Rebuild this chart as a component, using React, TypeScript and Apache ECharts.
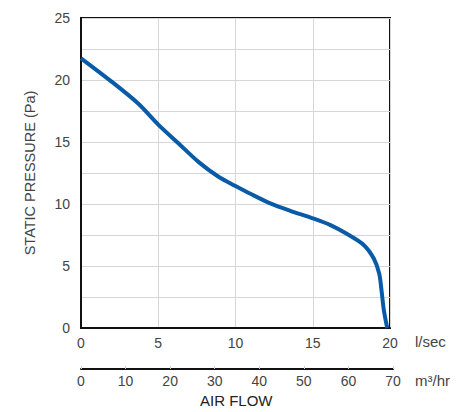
import React, { useEffect, useRef } from "react";
import * as echarts from "echarts";

const flowLps: number[] = [0, 2.0, 3.7, 5.0, 6.3, 7.6, 8.9, 10.0, 11.0, 12.25, 13.55, 15.0, 16.15, 17.2, 18.3, 18.95, 19.3, 19.45, 19.6, 19.82];
const pressurePa: number[] = [21.75, 19.85, 18.1, 16.4, 14.9, 13.4, 12.2, 11.45, 10.8, 10.05, 9.45, 8.85, 8.3, 7.6, 6.7, 5.6, 4.4, 3.05, 1.45, 0];
const lpsTicks = { min: 0, max: 20, interval: 5 };
const m3hTicks = { min: 0, max: 70, interval: 10 };
const paTicks = { min: 0, max: 25, interval: 2.5, labelEvery: 5 };

const FONT = "'Liberation Sans', Arial, Helvetica, sans-serif";
const TXT = "#444";

export default function App() {
  const ref = useRef<HTMLDivElement>(null);
  useEffect(() => {
    if (!ref.current) return;
    const chart = echarts.init(ref.current, undefined, { renderer: "svg" });
    const data = flowLps.map((x, i) => [x, pressurePa[i]]);
    chart.setOption({
      animation: false,
      grid: [
        { left: 81, top: 18, width: 309, height: 310, show: true, borderColor: "#111", borderWidth: 2, backgroundColor: "transparent" },
        { left: 81, top: 369, width: 312, height: 0 },
      ],
      xAxis: [
        {
          type: "value",
          gridIndex: 0,
          min: lpsTicks.min,
          max: lpsTicks.max,
          interval: lpsTicks.interval,
          axisLine: { show: true, lineStyle: { color: "#111", width: 2 } },
          axisTick: { show: false },
          splitLine: { show: true, lineStyle: { color: "#d6d6d6", width: 1 } },
          axisLabel: { color: TXT, fontSize: 14, fontFamily: FONT, margin: 8 },
        },
        {
          type: "value",
          gridIndex: 1,
          min: m3hTicks.min,
          max: m3hTicks.max,
          interval: m3hTicks.interval,
          axisLine: { show: true, lineStyle: { color: "#111", width: 2 } },
          axisTick: { show: true, inside: true, length: 3, lineStyle: { color: "#ccc" } },
          splitLine: { show: false },
          axisLabel: { color: TXT, fontSize: 14, fontFamily: FONT, margin: 5 },
        },
      ],
      yAxis: [
        {
          type: "value",
          gridIndex: 0,
          min: paTicks.min,
          max: paTicks.max,
          interval: paTicks.interval,
          axisLine: { show: true, lineStyle: { color: "#111", width: 2 } },
          axisTick: { show: false },
          splitLine: { show: true, lineStyle: { color: "#d6d6d6", width: 1 } },
          axisLabel: {
            color: TXT,
            fontSize: 14,
            fontFamily: FONT,
            margin: 11,
            formatter: (v: number) => (v % paTicks.labelEvery === 0 ? String(v) : ""),
          },
          name: "STATIC PRESSURE (Pa)",
          nameLocation: "middle",
          nameGap: 44,
          nameTextStyle: { color: TXT, fontSize: 14.5, fontFamily: FONT },
        },
        { type: "value", gridIndex: 1, show: false, min: 0, max: 1 },
      ],
      series: [
        {
          type: "line",
          xAxisIndex: 0,
          yAxisIndex: 0,
          data,
          smooth: 0.3,
          showSymbol: false,
          lineStyle: { color: "#0a5ba7", width: 4 },
          clip: false,
        },
        { type: "line", xAxisIndex: 1, yAxisIndex: 1, data: [] },
      ],
      graphic: [
        { type: "text", left: 415, top: 334, style: { text: "l/sec", fill: TXT, font: `15px ${FONT}` } },
        { type: "text", left: 415, top: 373, style: { text: "m³/hr", fill: TXT, font: `15px ${FONT}` } },
        { type: "text", left: 200, top: 393, style: { text: "AIR FLOW", fill: "#222", font: `15px ${FONT}` } },
      ],
    });
    return () => chart.dispose();
  }, []);
  return <div ref={ref} style={{ position: "absolute", left: 0, top: 0, width: 465, height: 412 }} />;
}
